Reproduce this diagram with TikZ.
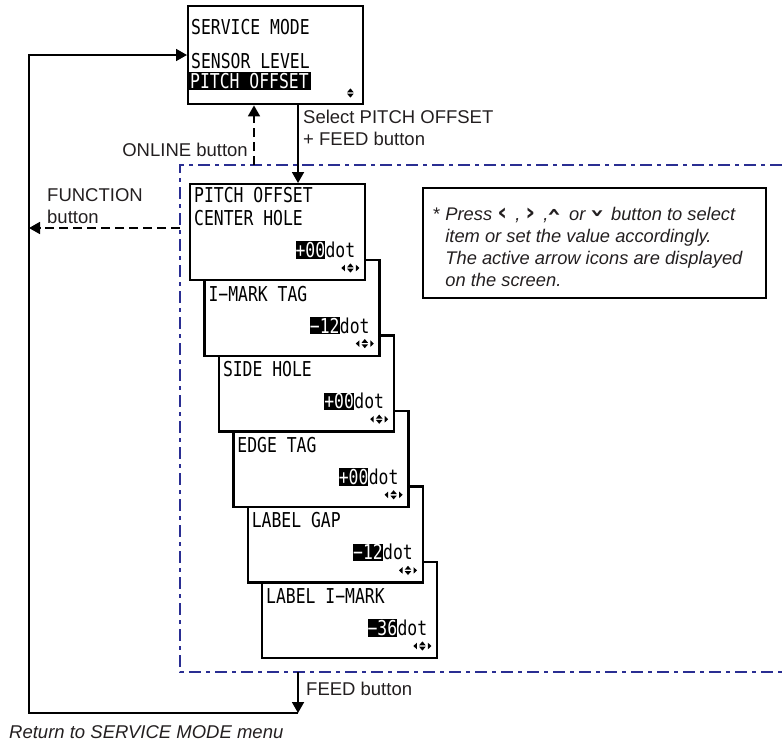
\documentclass[tikz,border=0pt]{standalone}
\usepackage{fontspec}
\setmainfont{Liberation Sans}
\newfontfamily\lcdfont[FakeStretch=0.8]{DejaVu Sans Mono}
\newfontfamily\keyfont{DejaVu Sans}
\usetikzlibrary{arrows.meta, positioning, calc}
\definecolor{zoneblue}{RGB}{42,46,146}
\definecolor{ink}{RGB}{35,31,32}

\newcommand{\keyglyph}[1]{{\keyfont\bfseries\upshape\fontsize{24}{24}\selectfont #1}}
\newcommand{\keyup}{\raisebox{1pt}{\rotatebox[origin=c]{90}{\keyglyph{›}}}}
\newcommand{\keydown}{\raisebox{1pt}{\rotatebox[origin=c]{-90}{\keyglyph{›}}}}

% arrow icons in the corner of a screen
\newcommand{\navkeys}[1]{%
  \begin{scope}[shift={#1}]
    \fill (-5.5,-3.3) -- (-5.5,3.3) -- (-9,0) -- cycle;
    \fill (5.5,-3.3) -- (5.5,3.3) -- (9,0) -- cycle;
    \fill (-3.3,-0.7) -- (3.3,-0.7) -- (0,-4.6) -- cycle;
    \fill (-3.3,0.7) -- (3.3,0.7) -- (0,4.6) -- cycle;
  \end{scope}}
\newcommand{\updownkeys}[1]{%
  \begin{scope}[shift={#1}]
    \fill (-3.3,-0.7) -- (3.3,-0.7) -- (0,-4.6) -- cycle;
    \fill (-3.3,0.7) -- (3.3,0.7) -- (0,4.6) -- cycle;
  \end{scope}}

\begin{document}
\begin{tikzpicture}[x=1pt, y=-1pt, line join=miter,
  txt/.style={font=\fontsize{18.5}{22}\selectfont, text=ink, inner sep=0pt, align=left},
  lcd/.style={font=\lcdfont\fontsize{20.5}{24}\selectfont, inner sep=0pt,
              text height=15pt, text depth=0pt},
  hl/.style={lcd, fill=black, text=white, inner ysep=1.2pt},
  screen/.style={draw, line width=2.4pt, fill=white, anchor=north west,
                 minimum width=175pt, minimum height=96pt, inner sep=0pt},
  conn/.style={line width=1.8pt},
  dconn/.style={conn, dash pattern=on 9pt off 5pt},
  arr/.style={-{Triangle[length=11pt, width=12pt]}},
  zone/.style={draw=zoneblue, line width=2.5pt,
               dash pattern=on 12pt off 5pt on 4pt off 5pt}]

  \useasboundingbox (0,0) rectangle (782,744);

  \coordinate (feedx) at (298,0);
  \coordinate (online) at (254,165);
  \coordinate (func) at (180,228);
  \coordinate (feedout) at (298,672);
  \coordinate (back) at (298,713);
  \coordinate (loop) at (29,55);

  \draw[zone] (782,165) -- (180,165) -- (180,672) -- (782,672);

  % service mode menu
  \node[screen, minimum height=98pt] (sm) at (187,5) {};
  \node[lcd, anchor=west] at ($(sm.north west)+(4,22)$) {SERVICE MODE};
  \node[lcd, anchor=west] at ($(sm.north west)+(4,56)$) {SENSOR LEVEL};
  \node[hl, anchor=west, inner xsep=2pt] at ($(sm.north west)+(1,76)$) {PITCH OFFSET};
  \updownkeys{($(sm.north east)+(-14,88)$)}

  % pitch offset screens, back to front
  \foreach \i/\nm/\lbl/\val in {5/lim/LABEL I−MARK/−36, 4/gap/LABEL GAP/−12,
      3/edge/EDGE TAG/+00, 2/side/SIDE HOLE/+00, 1/imt/I−MARK TAG/−12,
      0/ctr/CENTER HOLE/+00}{
    \node[screen] (\nm) at (189+14.4*\i, 183+75.6*\i) {};
    \node[lcd, anchor=west] at ($(\nm.north west)+(5,35)$) {\lbl};
    \node[lcd, anchor=east] (\nm-u) at ($(\nm.north east)+(-11,67)$) {dot};
    \node[hl, anchor=east] at (\nm-u.west) {\val};
    \navkeys{($(\nm.north east)+(-16,85)$)}
  }
  \node[lcd, anchor=west] at ($(ctr.north west)+(5,12)$) {PITCH OFFSET};

  \node[draw, line width=2.4pt, anchor=north west, minimum width=343pt,
        minimum height=110pt] (hint) at (422,187) {};
  \node[txt, anchor=west, font=\itshape\fontsize{18.3}{22}\selectfont] (hinttxt)
    at ($(hint.west)+(11,3.5)$)
    {\textup{*} Press \keyglyph{‹}\, , \keyglyph{›}\, ,\keyup\, or \keydown\, button to select\\
     \hphantom{\textup{*} }item or set the value accordingly.\\
     \hphantom{\textup{*} }The active arrow icons are displayed\\
     \hphantom{\textup{*} }on the screen.};

  \node[txt, anchor=west] (selpo) at (303,128) {Select PITCH OFFSET\\+ FEED button};
  \node[txt, anchor=east] (onl) at (248,150) {ONLINE button};
  \node[txt, anchor=west] (fun) at (47,206.5) {FUNCTION\\button};
  \node[txt, anchor=west] (feedlbl) at (306,689) {FEED button};
  \node[txt, anchor=west, font=\itshape\fontsize{18.5}{22}\selectfont] (ret)
    at (9,732) {Return to SERVICE MODE menu};

  \draw[conn, arr] (sm.south -| feedx) -- (ctr.north -| feedx);
  \draw[dconn, arr] (online) -- (online |- sm.south);
  \draw[dconn, arr] (func) -- (func -| loop);
  \draw[conn, arr] (feedout) -- (back);
  \draw[conn, arr] (back) -| (loop) -- (loop -| sm.west);
\end{tikzpicture}
\end{document}
